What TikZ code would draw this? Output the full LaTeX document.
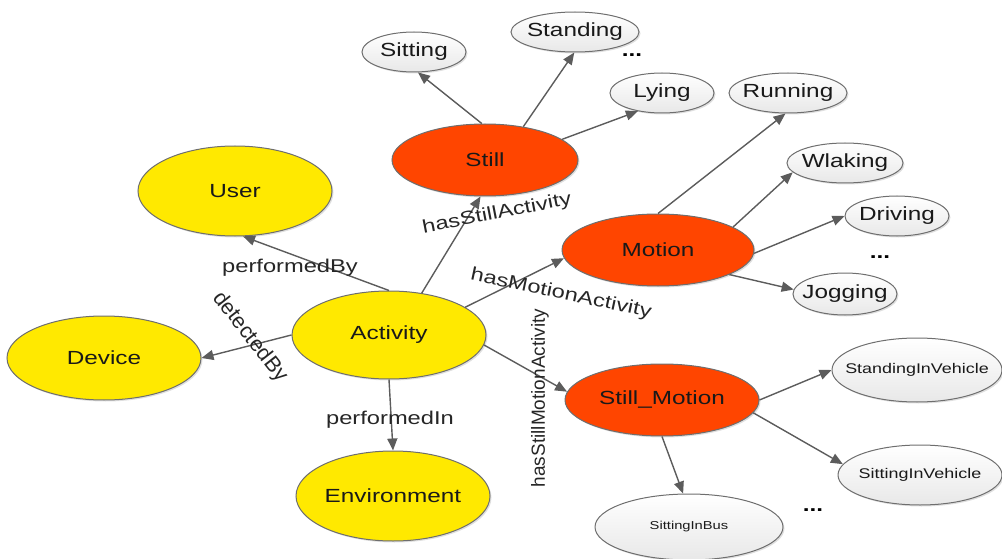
\documentclass[tikz,border=0pt]{standalone}
\usepackage{fontspec}
\setmainfont[FakeStretch=1.28]{Liberation Sans}
\newfontfamily\plainsans{Liberation Sans}
\usetikzlibrary{shapes.geometric, arrows.meta, shadows}

\definecolor{conceptyellow}{HTML}{FFE900}
\definecolor{typered}{HTML}{FF4500}
\definecolor{linkgray}{HTML}{5C5C5C}
\definecolor{rimgray}{HTML}{6E6E6E}

\begin{document}
\begin{tikzpicture}[x = 1pt, y = -1pt,
  onto/.style = { ellipse, draw = rimgray, line width = 1pt, inner xsep = -10pt, inner ysep = 0pt,
                  font = \fontsize{19}{22}\selectfont, text = black!90,
                  drop shadow={opacity=.25,shadow xshift=1.5pt,shadow yshift=-1.5pt} },
  concept/.style = { onto, fill = conceptyellow, minimum width = 194pt, minimum height = 88pt },
  acttype/.style = { onto, fill = typered, minimum height = 72pt },
  subtype/.style = { onto, top color = white, bottom color = black!9, minimum height = 40pt },
  rel/.style = { font = \fontsize{18.5}{21}\selectfont, text = black!85, inner sep = 0pt },
  more/.style = { font = \bfseries\fontsize{19}{21}\selectfont, inner sep = 0pt },
  link/.style = { draw = linkgray, line width = 1.4pt, -{Triangle[length = 12pt, width = 10pt]} }]

  \useasboundingbox (0,0) rectangle (1002,559);

  \node [concept] (act) at (389,335) { Activity };
  \node [concept, minimum height = 90pt] (user) at (235,191) { User };
  \node [concept, minimum height = 84pt] (dev) at (104,358) { Device };
  \node [concept, minimum height = 90pt] (env) at (393,496) { Environment };

  \node [acttype, minimum width = 186pt] (still) at (485,160) { Still };
  \node [acttype, minimum width = 192pt] (motion) at (658,250) { Motion };
  \node [acttype, minimum width = 194pt] (stillmotion) at (662,400) { Still\_Motion };

  \node [subtype, minimum width = 104pt] (sit) at (414,52) { Sitting };
  \node [subtype, minimum width = 128pt] (stand) at (575,32) { Standing };
  \node [subtype, minimum width = 104pt] (lie) at (662,93) { Lying };
  \node [more] (stilldots) at (632,55) { ... };

  \node [subtype, minimum width = 118pt] (run) at (788,93) { Running };
  \node [subtype, minimum width = 116pt] (walk) at (845,163) { Wlaking };
  \node [subtype, minimum width = 104pt] (drive) at (897,216) { Driving };
  \node [subtype, minimum width = 104pt, minimum height = 42pt] (jog) at (845,294) { Jogging };
  \node [more] (motiondots) at (880,257) { ... };

  \node [subtype, minimum width = 170pt, minimum height = 64pt, inner xsep = -20pt,
         font = \fontsize{14}{16}\selectfont] (standveh) at (917,370) { StandingInVehicle };
  \node [subtype, minimum width = 164pt, minimum height = 60pt, inner xsep = -20pt,
         font = \fontsize{14}{16}\selectfont] (sitveh) at (920,475) { SittingInVehicle };
  \node [subtype, minimum width = 188pt, minimum height = 66pt,
         font = \fontsize{11.5}{13}\selectfont] (bus) at (689,527) { SittingInBus };
  \node [more] (smdots) at (813,510) { ... };

  \draw [link] (act.north) -- (user.-80);
  \draw [link] (act.west) -- (dev.east);
  \draw [link] (act.52) -- (still.-97);
  \draw [link] (act.20) -- (motion.185);
  \draw [link] (act.-6) -- (stillmotion.175);
  \draw [link] (act.south) -- (env.north);

  \draw [link] (still.95) -- (sit.-79);
  \draw [link] (still.41) -- (stand.-92);
  \draw [link] (still.15) -- (lie.-143);

  \draw [link] (motion.north) -- (run.-97);
  \draw [link] (motion.17) -- (walk.190);
  \draw [link] (motion.-2) -- (drive.west);
  \draw [link] (motion.-19) -- (jog.175);

  \draw [link] (stillmotion.east) -- (standveh.west);
  \draw [link] (stillmotion.-8) -- (sitveh.172);
  \draw [link] (stillmotion.south) -- (bus.100);

  \node [rel] (performedby) at (290,268) { performedBy };
  \node [rel, rotate = -52, font = \plainsans\fontsize{21.5}{23}\selectfont] (detectedby) at (250,337) { detectedBy };
  \node [rel] (performedin) at (390,420) { performedIn };
  \node [rel, rotate = 11] (hasstill) at (497,214) { hasStillActivity };
  \node [rel, rotate = -12] (hasmotion) at (561,294) { hasMotionActivity };
  \node [rel, rotate = 90, font = \plainsans\fontsize{19}{21}\selectfont] (hasstillmotion) at (540,398) { hasStillMotionActivity };

\end{tikzpicture}
\end{document}
